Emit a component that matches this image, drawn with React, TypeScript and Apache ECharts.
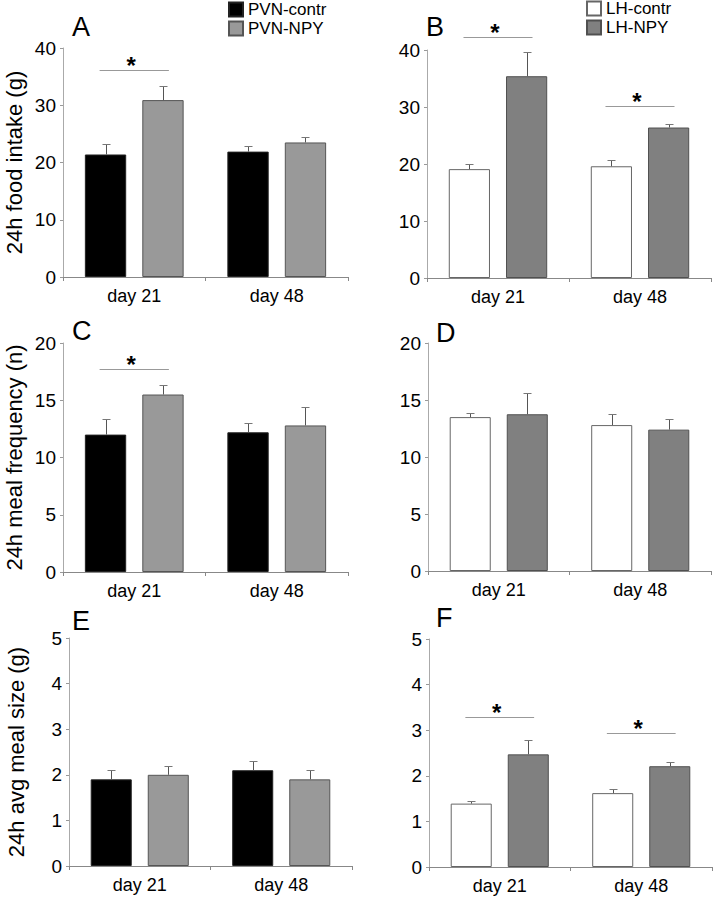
import React, { useEffect, useRef } from "react";
import * as echarts from "echarts";

const categories = ["day 21", "day 48"];

// Panel A: 24h food intake (g), PVN
const pvnContrFood = [21.4, 21.9];
const pvnContrFoodSem = [1.8, 1.0];
const pvnNpyFood = [30.9, 23.5];
const pvnNpyFoodSem = [2.5, 0.9];
// Panel B: 24h food intake (g), LH
const lhContrFood = [19.1, 19.6];
const lhContrFoodSem = [0.9, 1.1];
const lhNpyFood = [35.4, 26.4];
const lhNpyFoodSem = [4.2, 0.6];
// Panel C: meal frequency, PVN
const pvnContrFreq = [12.0, 12.2];
const pvnContrFreqSem = [1.35, 0.85];
const pvnNpyFreq = [15.5, 12.8];
const pvnNpyFreqSem = [0.8, 1.6];
// Panel D: meal frequency, LH
const lhContrFreq = [13.5, 12.8];
const lhContrFreqSem = [0.35, 1.0];
const lhNpyFreq = [13.75, 12.4];
const lhNpyFreqSem = [1.9, 0.9];
// Panel E: avg meal size, PVN
const pvnContrSize = [1.9, 2.1];
const pvnContrSizeSem = [0.2, 0.2];
const pvnNpySize = [2.0, 1.9];
const pvnNpySizeSem = [0.2, 0.2];
// Panel F: avg meal size, LH
const lhContrSize = [1.39, 1.62];
const lhContrSizeSem = [0.06, 0.09];
const lhNpySize = [2.47, 2.21];
const lhNpySizeSem = [0.31, 0.09];

// significance markers: [category index, y value]
const sigA = [[0, 36.2]];
const sigB = [[0, 42.2], [1, 30.1]];
const sigC = [[0, 17.7]];
const sigF = [[0, 3.3], [1, 2.94]];

const yTicksFood = { max: 40, interval: 10 };
const yTicksFreq = { max: 20, interval: 5 };
const yTicksSize = { max: 5, interval: 1 };

const panelLetters = ["A", "B", "C", "D", "E", "F"];

const FONT = "'Liberation Sans', Arial, Helvetica, sans-serif";

const styles = {
  pvnContr: { color: "#000000", borderColor: "#222222", borderWidth: 1 },
  pvnNpy: { color: "#999999", borderColor: "#555555", borderWidth: 1 },
  lhContr: { color: "#ffffff", borderColor: "#666666", borderWidth: 1 },
  lhNpy: { color: "#808080", borderColor: "#505050", borderWidth: 1 },
};

const BAR_W = 0.29;
const BAR_GAP = 0.39;
const OFF = (BAR_W + BAR_W * BAR_GAP) / 2;

export default function App() {
  const ref = useRef<HTMLDivElement>(null);

  useEffect(() => {
    if (!ref.current) return;
    const chart = echarts.init(ref.current, undefined, { renderer: "svg" });

    const grids = [
      { left: 63, top: 48, width: 285, height: 229 },
      { left: 427, top: 50, width: 284, height: 228 },
      { left: 63, top: 343, width: 285, height: 229 },
      { left: 428, top: 343, width: 283, height: 228 },
      { left: 69, top: 638, width: 283, height: 228 },
      { left: 429, top: 639, width: 283, height: 228 },
    ];
    const yCfg = [yTicksFood, yTicksFood, yTicksFreq, yTicksFreq, yTicksSize, yTicksSize];
    const yNames = ["24h food intake (g)", "", "24h meal frequency (n)", "", "24h avg meal size (g)", ""];
    const yNameGaps = [38, 0, 38, 0, 42, 0];

    const xAxes = grids.map((_, i) => ({
      type: "category",
      gridIndex: i,
      data: categories,
      axisLine: { lineStyle: { color: "#888888", width: 1 } },
      axisTick: { show: true, length: 4, lineStyle: { color: "#888888" } },
      axisLabel: { color: "#000", fontSize: 18, fontFamily: FONT, margin: 10 },
    }));
    const yAxes = grids.map((_, i) => ({
      type: "value",
      gridIndex: i,
      min: 0,
      max: yCfg[i].max,
      interval: yCfg[i].interval,
      name: yNames[i],
      nameLocation: "middle",
      nameGap: yNameGaps[i],
      nameTextStyle: { color: "#000", fontSize: 22, fontFamily: FONT },
      axisLine: { show: true, lineStyle: { color: "#aaaaaa", width: 1 } },
      axisTick: { show: true, length: 3, lineStyle: { color: "#999999" } },
      axisLabel: { color: "#000", fontSize: 19, fontFamily: FONT, margin: 7 },
      splitLine: { show: false },
    }));

    const panels = [
      { names: ["PVN-contr", "PVN-NPY"], st: [styles.pvnContr, styles.pvnNpy], vals: [pvnContrFood, pvnNpyFood], sems: [pvnContrFoodSem, pvnNpyFoodSem], sig: sigA },
      { names: ["LH-contr", "LH-NPY"], st: [styles.lhContr, styles.lhNpy], vals: [lhContrFood, lhNpyFood], sems: [lhContrFoodSem, lhNpyFoodSem], sig: sigB },
      { names: ["PVN-contr", "PVN-NPY"], st: [styles.pvnContr, styles.pvnNpy], vals: [pvnContrFreq, pvnNpyFreq], sems: [pvnContrFreqSem, pvnNpyFreqSem], sig: sigC },
      { names: ["LH-contr", "LH-NPY"], st: [styles.lhContr, styles.lhNpy], vals: [lhContrFreq, lhNpyFreq], sems: [lhContrFreqSem, lhNpyFreqSem], sig: [] as number[][] },
      { names: ["PVN-contr", "PVN-NPY"], st: [styles.pvnContr, styles.pvnNpy], vals: [pvnContrSize, pvnNpySize], sems: [pvnContrSizeSem, pvnNpySizeSem], sig: [] as number[][] },
      { names: ["LH-contr", "LH-NPY"], st: [styles.lhContr, styles.lhNpy], vals: [lhContrSize, lhNpySize], sems: [lhContrSizeSem, lhNpySizeSem], sig: sigF },
    ];

    const errRender = (params: any, api: any) => {
      const cat = api.value(0);
      const mean = api.value(1);
      const sem = api.value(2);
      const g = api.value(3);
      const catW = api.size([1, 0])[0];
      const off = (g === 0 ? -1 : 1) * OFF * catW;
      const p0 = api.coord([cat, mean]);
      const p1 = api.coord([cat, mean + sem]);
      const x = Math.round(p0[0] + off) + 0.5;
      const yTop = Math.round(p1[1]) + 0.5;
      return {
        type: "group",
        children: [
          { type: "line", shape: { x1: x, y1: p0[1], x2: x, y2: yTop }, style: { stroke: "#555555", lineWidth: 1 } },
          { type: "line", shape: { x1: x - 4, y1: yTop, x2: x + 4, y2: yTop }, style: { stroke: "#777777", lineWidth: 1 } },
        ],
      };
    };

    const sigRender = (params: any, api: any) => {
      const cat = api.value(0);
      const y = api.value(1);
      const catW = api.size([1, 0])[0];
      const p = api.coord([cat, y]);
      const half = 0.243 * catW;
      const yl = Math.round(p[1]) + 0.5;
      return {
        type: "group",
        children: [
          { type: "line", shape: { x1: p[0] - half, y1: yl, x2: p[0] + half, y2: yl }, style: { stroke: "#999999", lineWidth: 1 } },
          {
            type: "text",
            x: p[0] - 3,
            y: yl - 5,
            style: { text: "*", fill: "#000", font: `bold 24px ${FONT}`, align: "center", verticalAlign: "middle" },
          },
        ],
      };
    };

    const series: any[] = [];
    panels.forEach((p, i) => {
      [0, 1].forEach((g) => {
        series.push({
          type: "bar",
          name: p.names[g],
          xAxisIndex: i,
          yAxisIndex: i,
          data: p.vals[g],
          barWidth: `${BAR_W * 100}%`,
          barGap: `${BAR_GAP * 100}%`,
          itemStyle: p.st[g],
          emphasis: { disabled: true },
          z: 2,
        });
      });
      [0, 1].forEach((g) => {
        series.push({
          type: "custom",
          xAxisIndex: i,
          yAxisIndex: i,
          renderItem: errRender,
          encode: { x: 0, y: 1 },
          data: p.vals[g].map((v, k) => [k, v, p.sems[g][k], g]),
          clip: false,
          z: 3,
          silent: true,
        });
      });
      if (p.sig.length) {
        series.push({
          type: "custom",
          xAxisIndex: i,
          yAxisIndex: i,
          renderItem: sigRender,
          encode: { x: 0, y: 1 },
          data: p.sig,
          clip: false,
          z: 4,
          silent: true,
        });
      }
    });

    const letterPos = [
      [72, 27],
      [426, 27],
      [72, 331],
      [436, 333],
      [72, 621],
      [436, 618],
    ];

    chart.setOption({
      animation: false,
      textStyle: { fontFamily: FONT },
      grid: grids,
      xAxis: xAxes,
      yAxis: yAxes,
      legend: [
        {
          data: ["PVN-contr", "PVN-NPY"],
          left: 228,
          top: 1,
          orient: "vertical",
          itemWidth: 14,
          itemHeight: 14,
          itemGap: 2,
          padding: 0,
          selectedMode: false,
          icon: "rect",
          textStyle: { fontSize: 17, fontFamily: FONT, color: "#000", lineHeight: 14 },
        },
        {
          data: ["LH-contr", "LH-NPY"],
          left: 586,
          top: 0,
          orient: "vertical",
          itemWidth: 14,
          itemHeight: 14,
          itemGap: 2,
          padding: 0,
          selectedMode: false,
          icon: "rect",
          textStyle: { fontSize: 17, fontFamily: FONT, color: "#000", lineHeight: 14 },
        },
      ],
      graphic: panelLetters.map((t, i) => ({
        type: "text",
        x: letterPos[i][0],
        y: letterPos[i][1],
        style: { text: t, fill: "#000", font: `27px ${FONT}`, verticalAlign: "middle" },
      })),
      series,
    });

    return () => chart.dispose();
  }, []);

  return (
    <div
      ref={ref}
      style={{ position: "absolute", left: 0, top: 0, width: 713, height: 900, background: "#fff" }}
    />
  );
}
